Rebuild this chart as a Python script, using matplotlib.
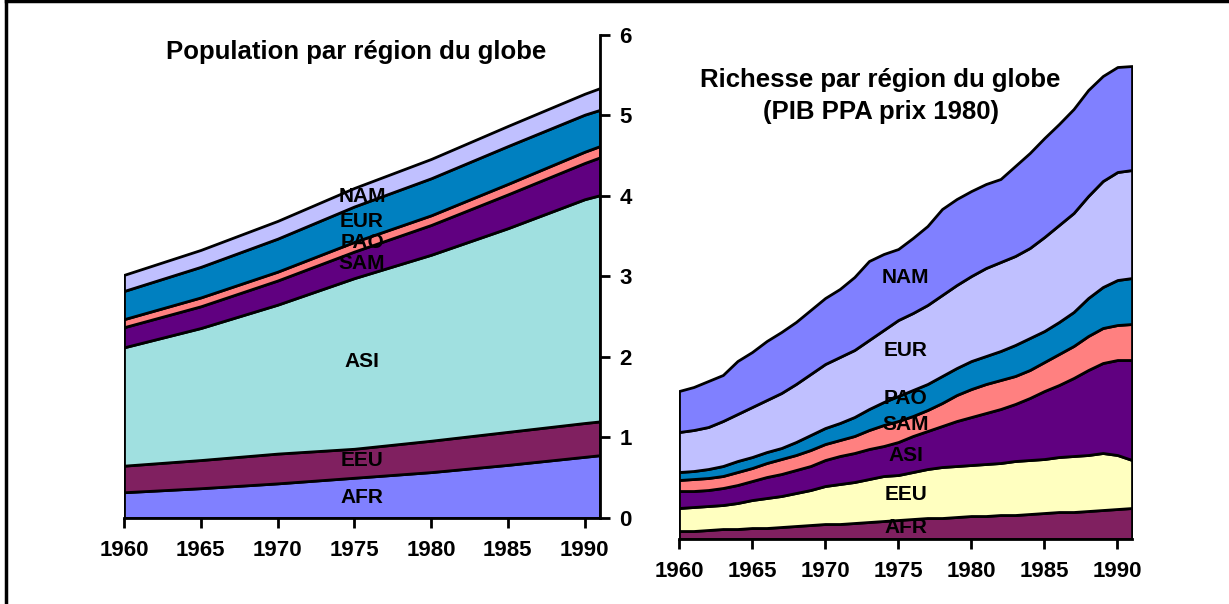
import matplotlib
matplotlib.use('Agg')
import matplotlib.pyplot as plt
from matplotlib.lines import Line2D

plt.rcParams['font.family'] = ['Liberation Sans', 'DejaVu Sans']
plt.rcParams['font.weight'] = 'bold'

# --- population (milliards), points tous les 5 ans ---
pop_years = [1960, 1965, 1970, 1975, 1980, 1985, 1990, 1991]
pop_afr = [0.32, 0.37, 0.43, 0.50, 0.57, 0.66, 0.76, 0.78]
pop_eeu = [0.33, 0.35, 0.37, 0.36, 0.39, 0.41, 0.42, 0.42]
pop_asi = [1.47, 1.64, 1.85, 2.12, 2.31, 2.53, 2.78, 2.81]
pop_sam = [0.25, 0.27, 0.30, 0.33, 0.37, 0.42, 0.45, 0.47]
pop_pao = [0.10, 0.11, 0.11, 0.12, 0.12, 0.13, 0.14, 0.14]
pop_eur = [0.35, 0.38, 0.41, 0.44, 0.46, 0.47, 0.46, 0.45]
pop_nam = [0.20, 0.21, 0.22, 0.23, 0.24, 0.25, 0.26, 0.27]

# --- richesse (PIB PPA prix 1980), annuel ---
gdp_years = list(range(1960, 1992))
gdp_afr = [0.08, 0.08, 0.09, 0.10, 0.10, 0.11, 0.11, 0.12, 0.13, 0.14, 0.15, 0.15, 0.16, 0.17, 0.18, 0.19,
           0.20, 0.21, 0.21, 0.22, 0.23, 0.23, 0.24, 0.24, 0.25, 0.26, 0.27, 0.27, 0.28, 0.29, 0.30, 0.31]
gdp_eeu = [0.23, 0.24, 0.24, 0.24, 0.26, 0.28, 0.30, 0.31, 0.33, 0.35, 0.38, 0.40, 0.41, 0.43, 0.45, 0.45,
           0.47, 0.49, 0.51, 0.51, 0.51, 0.52, 0.52, 0.54, 0.54, 0.54, 0.55, 0.56, 0.56, 0.57, 0.54, 0.48]
gdp_asi = [0.17, 0.16, 0.16, 0.17, 0.18, 0.19, 0.21, 0.22, 0.23, 0.24, 0.26, 0.28, 0.29, 0.30, 0.30, 0.33,
           0.36, 0.38, 0.41, 0.45, 0.48, 0.51, 0.54, 0.57, 0.62, 0.68, 0.72, 0.78, 0.85, 0.90, 0.95, 1.00]
gdp_sam = [0.11, 0.12, 0.12, 0.12, 0.13, 0.13, 0.14, 0.15, 0.15, 0.16, 0.16, 0.16, 0.17, 0.19, 0.21, 0.21,
           0.20, 0.21, 0.23, 0.26, 0.28, 0.29, 0.29, 0.28, 0.28, 0.29, 0.31, 0.32, 0.34, 0.35, 0.35, 0.36]
gdp_pao = [0.08, 0.08, 0.09, 0.10, 0.11, 0.11, 0.11, 0.11, 0.13, 0.15, 0.16, 0.17, 0.19, 0.21, 0.23, 0.25,
           0.26, 0.26, 0.27, 0.27, 0.28, 0.28, 0.29, 0.31, 0.32, 0.31, 0.32, 0.34, 0.38, 0.41, 0.45, 0.46]
gdp_eur = [0.40, 0.41, 0.42, 0.45, 0.47, 0.50, 0.52, 0.55, 0.58, 0.61, 0.64, 0.66, 0.67, 0.69, 0.72, 0.76,
           0.77, 0.79, 0.81, 0.83, 0.85, 0.88, 0.89, 0.89, 0.90, 0.94, 0.97, 0.99, 1.02, 1.06, 1.08, 1.08]
gdp_nam = [0.41, 0.43, 0.46, 0.46, 0.53, 0.55, 0.59, 0.61, 0.62, 0.64, 0.66, 0.68, 0.73, 0.79, 0.76, 0.71,
           0.75, 0.79, 0.86, 0.86, 0.85, 0.84, 0.83, 0.90, 0.95, 0.99, 1.01, 1.04, 1.06, 1.05, 1.05, 1.04]

labels = ['AFR', 'EEU', 'ASI', 'SAM', 'PAO', 'EUR', 'NAM']
pop_colors = ['#8080FF', '#802060', '#A0E0E0', '#600080', '#FF8080', '#0080C0', '#C0C0FF']
gdp_colors = ['#802060', '#FFFFC0', '#600080', '#FF8080', '#0080C0', '#C0C0FF', '#8080FF']

pop_label_y = [0.26, 0.71, 1.95, 3.16, 3.42, 3.68, 3.99]
gdp_label_y = [0.12, 0.45, 0.84, 1.15, 1.41, 1.89, 2.62]


def stacked(ax, years, series, colors):
    base = [0.0] * len(years)
    for vals, col in zip(series, colors):
        top = [b + v for b, v in zip(base, vals)]
        ax.fill_between(years, base, top, facecolor=col, edgecolor='black', linewidth=2, zorder=2)
        base = top


fig = plt.figure(figsize=(12.29, 6.04), dpi=100)

# cadre
fig.add_artist(Line2D([0.0049, 0.0049], [0, 0.998], color='black', lw=2.5, transform=fig.transFigure))
fig.add_artist(Line2D([0.0049, 0.998], [0.998, 0.998], color='black', lw=2.5, transform=fig.transFigure))

# ---- gauche : population ----
ax1 = fig.add_axes([0.1009, 0.1424, 0.3873, 0.7997])
stacked(ax1, pop_years,
        [pop_afr, pop_eeu, pop_asi, pop_sam, pop_pao, pop_eur, pop_nam], pop_colors)
ax1.set_xlim(1960, 1991)
ax1.set_ylim(0, 6)
ax1.yaxis.tick_right()
for s in ['top', 'left']:
    ax1.spines[s].set_visible(False)
ax1.spines['right'].set_linewidth(2)
ax1.spines['bottom'].set_linewidth(2)
ax1.spines['right'].set_zorder(3)
ax1.set_xticks(range(1960, 1991, 5))
ax1.set_yticks(range(0, 7))
ax1.tick_params(axis='both', direction='out', length=7, width=2, labelsize=16)
ax1.tick_params(axis='x', pad=9)
ax1.tick_params(axis='y', pad=7)
for lab, y in zip(labels, pop_label_y):
    ax1.text(1975.5, y, lab, ha='center', va='center', fontsize=15, fontweight='bold', zorder=5)
ax1.text(0.488, 0.965, 'Population par région du globe', transform=ax1.transAxes,
         ha='center', va='center', fontsize=18.5, fontweight='bold')

# ---- droite : richesse ----
ax2 = fig.add_axes([0.5525, 0.1076, 0.3686, 0.8278])
stacked(ax2, gdp_years,
        [gdp_afr, gdp_eeu, gdp_asi, gdp_sam, gdp_pao, gdp_eur, gdp_nam], gdp_colors)
ax2.set_xlim(1960, 1991)
ax2.set_ylim(0, 5)
for s in ['top', 'left', 'right']:
    ax2.spines[s].set_visible(False)
ax2.spines['bottom'].set_linewidth(2)
ax2.set_xticks(range(1960, 1991, 5))
ax2.set_yticks([])
ax2.tick_params(axis='x', direction='out', length=7, width=2, labelsize=16, pad=9)
for lab, y in zip(labels, gdp_label_y):
    ax2.text(1975.5, y, lab, ha='center', va='center', fontsize=15, fontweight='bold', zorder=5)
ax2.text(0.445, 0.886, 'Richesse par région du globe\n(PIB PPA prix 1980)', transform=ax2.transAxes,
         ha='center', va='center', fontsize=18.5, fontweight='bold', linespacing=1.42)

fig.savefig('out.png', dpi=100)
